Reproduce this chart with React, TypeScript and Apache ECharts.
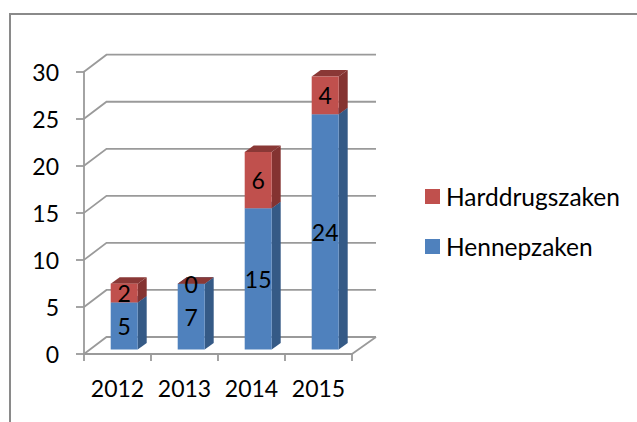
import React, { useEffect, useRef } from "react";
import * as echarts from "echarts";

const categories = ["2012", "2013", "2014", "2015"];
const hennepzaken = [5, 7, 15, 25];
const hennepLabels = ["5", "7", "15", "24"];
const harddrugszaken = [2, 0, 6, 4];
const harddrugsLabels = ["2", "0", "6", "4"];
const gridValues = [0, 5, 10, 15, 20, 25, 30];

const FONT = "Lato, 'Noto Sans', sans-serif";
const GREY = "#9a9a9a";
const DX = 22.5;
const DY = 17;

function renderWalls(params: any, api: any) {
  const v = api.value(0);
  const cs = params.coordSys;
  const p = api.coord([0, v]);
  const y = p[1];
  const x0 = cs.x;
  const x1 = cs.x + cs.width;
  const lineStyle = { stroke: GREY, lineWidth: 1.8, fill: "none" };
  const children: any[] = [
    {
      type: "polyline",
      shape: { points: [[x0, y], [x0 + DX, y - DY], [x1 + DX + 1.5, y - DY]] },
      style: lineStyle,
    },
  ];
  if (v === 0) {
    children.push({
      type: "line",
      shape: { x1: x1, y1: y, x2: x1 + DX + 1.5, y2: y - DY },
      style: lineStyle,
    });
  }
  return { type: "group", children };
}

function makeBarRenderer(front: string, side: string, top: string, labels: string[]) {
  return (_params: any, api: any) => {
    const cat = api.value(0);
    const base = api.value(1);
    const val = api.value(2);
    const c0 = api.coord([cat, base]);
    const c1 = api.coord([cat, base + val]);
    const w = 27;
    const dx = 9;
    const dy = 6.5;
    const left = c0[0] - 6.8;
    const yb = c0[1] - 4.5;
    const yt = c1[1] - 4.5;
    const right = left + w;
    return {
      type: "group",
      children: [
        {
          type: "polygon",
          shape: { points: [[right, yb], [right + dx, yb - dy], [right + dx, yt - dy], [right, yt]] },
          style: { fill: side },
        },
        {
          type: "polygon",
          shape: { points: [[left, yt], [right, yt], [right + dx, yt - dy], [left + dx, yt - dy]] },
          style: { fill: top },
        },
        {
          type: "rect",
          shape: { x: left, y: yt, width: w, height: yb - yt },
          style: { fill: front },
        },
        {
          type: "text",
          z2: 10,
          style: {
            x: left + w / 2,
            y: (yb + yt) / 2,
            text: labels[cat],
            fill: "#000",
            font: `23px ${FONT}`,
            align: "center",
            verticalAlign: "middle",
          },
        },
      ],
    };
  };
}

export default function App() {
  const ref = useRef<HTMLDivElement>(null);
  useEffect(() => {
    document.body.style.margin = "0";
    const chart = echarts.init(ref.current!, undefined, { renderer: "svg" });
    chart.setOption({
      animation: false,
      backgroundColor: "#fff",
      grid: { left: 84, right: 285, top: 71.7, bottom: 68, containLabel: false },
      legend: {
        orient: "vertical",
        left: 425,
        top: 184,
        padding: 0,
        itemWidth: 15,
        itemHeight: 15,
        itemGap: 25,
        icon: "rect",
        data: ["Harddrugszaken", "Hennepzaken"],
        textStyle: { fontFamily: FONT, fontSize: 24.5, color: "#000", padding: [0, 0, 0, 1] },
      },
      xAxis: {
        type: "category",
        data: categories,
        axisLine: { show: true, lineStyle: { color: GREY, width: 1.8 } },
        axisTick: { show: true, interval: 0, alignWithLabel: false, length: 7, lineStyle: { color: GREY, width: 1.8 } },
        axisLabel: { interval: 0, hideOverlap: false, fontFamily: FONT, fontSize: 23, color: "#000", margin: 22 },
      },
      yAxis: {
        type: "value",
        min: 0,
        max: 30,
        interval: 5,
        splitLine: { show: false },
        axisLine: { show: true, lineStyle: { color: GREY, width: 1.8 } },
        axisTick: { show: true, length: 8, lineStyle: { color: GREY, width: 1.8 } },
        axisLabel: { fontFamily: FONT, fontSize: 23, color: "#000", margin: 25 },
      },
      graphic: [
        {
          type: "polyline",
          silent: true,
          shape: { points: [[10, 440], [10, 14], [660, 14]] },
          style: { stroke: "#8a8a8a", lineWidth: 2, fill: "none" },
        },
      ],
      series: [
        {
          type: "custom",
          name: "walls",
          z: 1,
          silent: true,
          clip: false,
          data: gridValues.map((v) => [v]),
          encode: { y: 0 },
          renderItem: renderWalls,
        },
        {
          type: "custom",
          name: "Hennepzaken",
          z: 2,
          clip: false,
          itemStyle: { color: "#4f81bd" },
          data: categories.map((_, i) => [i, 0, hennepzaken[i]]),
          encode: { x: 0, y: 2 },
          renderItem: makeBarRenderer("#4f81bd", "#355a86", "#3f6796", hennepLabels),
        },
        {
          type: "custom",
          name: "Harddrugszaken",
          z: 3,
          clip: false,
          itemStyle: { color: "#c0504d" },
          data: categories.map((_, i) => [i, hennepzaken[i], harddrugszaken[i]]),
          encode: { x: 0, y: 2 },
          renderItem: makeBarRenderer("#c0504d", "#843331", "#8a3836", harddrugsLabels),
        },
      ],
    });
    return () => chart.dispose();
  }, []);
  return <div ref={ref} style={{ width: 637, height: 422 }} />;
}
